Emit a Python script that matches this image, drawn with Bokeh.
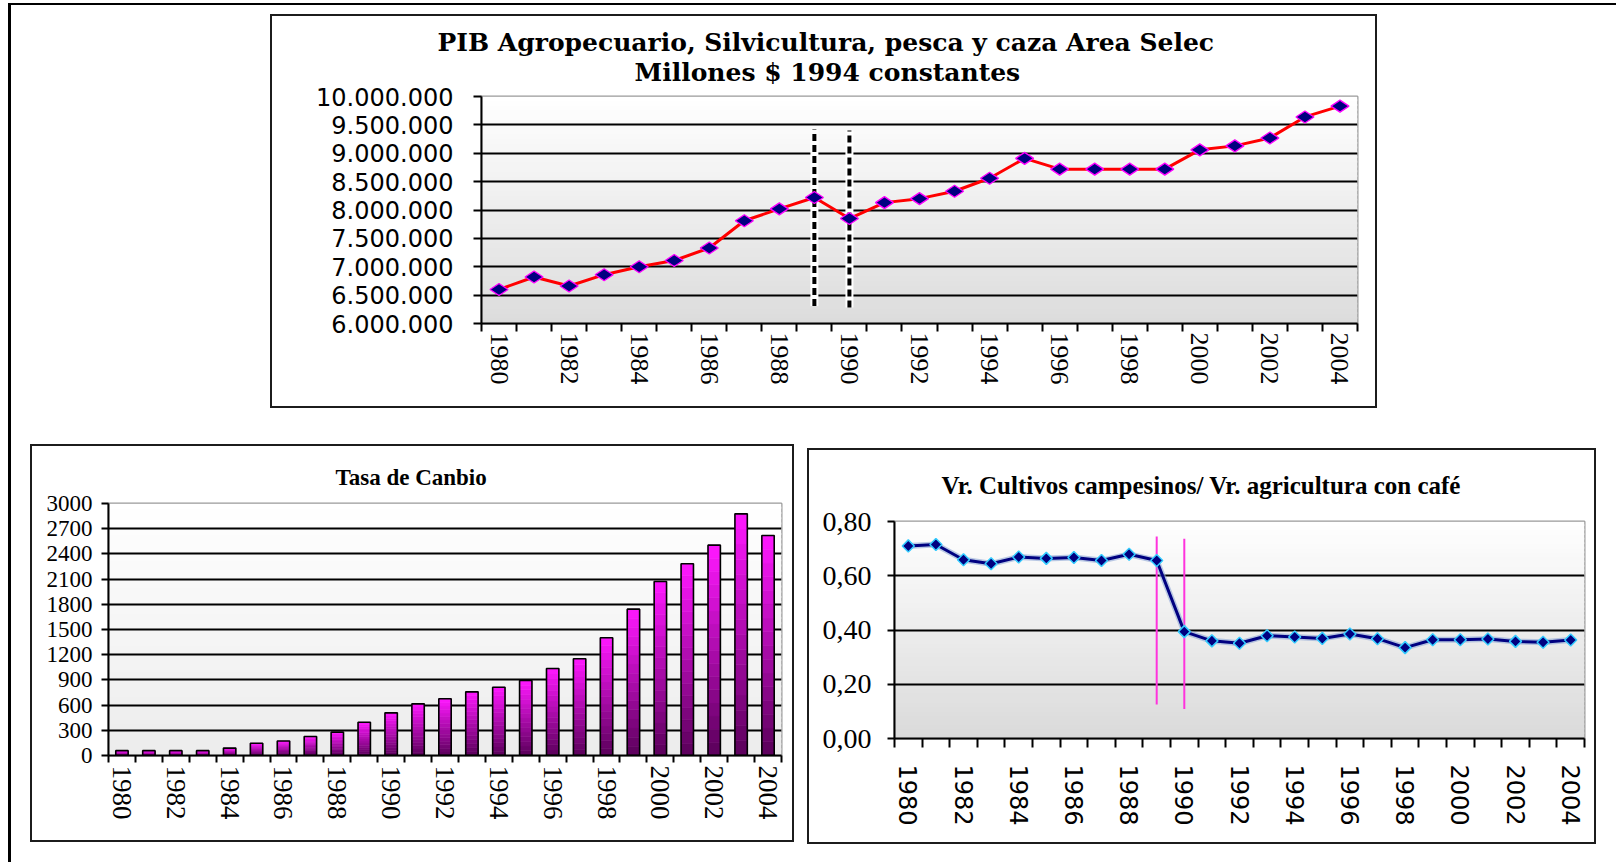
import numpy as np
from bokeh.plotting import figure
from bokeh.models import FixedTicker, Title, BoxAnnotation, Spacer, Range1d
from bokeh.layouts import row, column
from bokeh.embed import file_html
from bokeh.resources import INLINE

# ---------------- data ----------------
years = list(range(1980, 2005))

pib = [6600000, 6820000, 6660000, 6860000, 7000000, 7110000, 7330000, 7810000,
       8020000, 8220000, 7850000, 8130000, 8200000, 8330000, 8560000, 8910000,
       8720000, 8720000, 8720000, 8720000, 9060000, 9130000, 9270000, 9640000,
       9830000]

tasa = [58, 58, 58, 58, 88, 146, 172, 227, 278, 395, 508, 615, 675, 758, 813,
        893, 1036, 1151, 1401, 1742, 2071, 2282, 2504, 2877, 2619]

ratio = [0.710, 0.715, 0.659, 0.644, 0.669, 0.664, 0.667, 0.656, 0.679, 0.656,
         0.394, 0.360, 0.351, 0.379, 0.374, 0.369, 0.385, 0.368, 0.335, 0.364,
         0.364, 0.367, 0.358, 0.355, 0.363]

pib_ticks = [6000000, 6500000, 7000000, 7500000, 8000000, 8500000, 9000000,
             9500000, 10000000]
pib_tick_labels = ["6.000.000", "6.500.000", "7.000.000", "7.500.000",
                   "8.000.000", "8.500.000", "9.000.000", "9.500.000",
                   "10.000.000"]
tasa_ticks = [0, 300, 600, 900, 1200, 1500, 1800, 2100, 2400, 2700, 3000]
tasa_tick_labels = ["0", "300", "600", "900", "1200", "1500", "1800", "2100",
                    "2400", "2700", "3000"]
ratio_ticks = [0.0, 0.2, 0.4, 0.6, 0.8]
ratio_tick_labels = ["0,00", "0,20", "0,40", "0,60", "0,80"]
year_ticks = [1980, 1982, 1984, 1986, 1988, 1990, 1992, 1994, 1996, 1998,
              2000, 2002, 2004]
year_tick_labels = ["1980", "1982", "1984", "1986", "1988", "1990", "1992",
                    "1994", "1996", "1998", "2000", "2002", "2004"]

pib_title = ["PIB Agropecuario, Silvicultura, pesca y caza Area Selec",
             "Millones $ 1994 constantes"]
tasa_title = "Tasa de Canbio"
ratio_title = "Vr. Cultivos campesinos/ Vr. agricultura con café"

# vertical reference lines
pib_break_years = [1989, 1990]
pib_break_low = [6310000, 6280000]
pib_break_high = [9420000, 9400000]
ratio_break_years = [1989, 1990]
ratio_break_low = [0.125, 0.109]
ratio_break_high = [0.745, 0.736]

# ---------------- helpers ----------------
BOX_BORDER = {"border": "2px solid #1c1c1c"}
XR = (years[0] - 0.5, years[-1] + 0.5)
boundaries = [y - 0.5 for y in years] + [years[-1] + 0.5]


def hexcol(rgb):
    return "#%02x%02x%02x" % tuple(int(round(c)) for c in rgb)


def add_gradient(p, y0, y1, top_rgb, bottom_rgb, n=48):
    h = (y1 - y0) / n
    for i in range(n):
        t = (i + 0.5) / n
        col = [b + (a - b) * t for a, b in zip(top_rgb, bottom_rgb)]
        p.add_layout(BoxAnnotation(bottom=y0 + i * h,
                                   top=y0 + (i + 1.4) * h if i < n - 1 else y1,
                                   fill_color=hexcol(col), fill_alpha=1.0,
                                   line_color=None, level="image"))


def make_fig(w, h, l, r, t, b, yr, ticks, tick_labels):
    p = figure(width=w, height=h, output_backend="svg", toolbar_location=None,
               x_range=Range1d(*XR), y_range=Range1d(*yr),
               min_border_left=l, min_border_right=r, min_border_top=t,
               min_border_bottom=b)
    p.styles = BOX_BORDER
    p.background_fill_color = "#eeeeee"
    p.border_fill_color = "white"
    p.outline_line_color = "#9a9a9a"
    p.outline_line_width = 2
    p.xgrid.visible = False
    p.ygrid.ticker = FixedTicker(ticks=ticks[1:-1])
    p.ygrid.grid_line_color = "black"
    p.ygrid.grid_line_width = 2
    p.ygrid.grid_line_alpha = 1.0
    p.xaxis.ticker = FixedTicker(ticks=year_ticks, minor_ticks=boundaries)
    p.xaxis.major_label_overrides = dict(zip(year_ticks, year_tick_labels))
    p.xaxis.major_label_orientation = "vertical"
    p.yaxis.ticker = FixedTicker(ticks=ticks, minor_ticks=[])
    p.yaxis.major_label_overrides = dict(zip(ticks, tick_labels))
    for ax in (p.xaxis[0], p.yaxis[0]):
        ax.axis_line_color = "black"
        ax.axis_line_width = 2
        ax.major_tick_line_color = "black"
        ax.major_tick_line_width = 2
        ax.minor_tick_line_color = "black"
        ax.minor_tick_line_width = 2
        ax.major_label_text_color = "black"
    p.xaxis.major_tick_out = 0
    p.xaxis.major_tick_in = 0
    p.xaxis.minor_tick_in = 0
    p.yaxis.major_tick_in = 0
    return p


def add_title(p, text, offset, standoff, font, size, valign="bottom"):
    p.add_layout(Title(text=text, align="left", offset=offset, standoff=standoff,
                       vertical_align=valign,
                       text_font=font, text_font_style="bold",
                       text_font_size=size, text_color="black"), "above")


# ---------------- top chart: PIB ----------------
p1 = make_fig(1107, 394, 209, 22, 80, 87, (6000000, 10000000), pib_ticks, pib_tick_labels)
add_gradient(p1, 6000000, 10000000, (255, 255, 255), (220, 220, 220))
p1.xaxis.minor_tick_out = 8
p1.xaxis.major_label_standoff = 1
p1.xaxis.major_label_text_font = "Liberation Serif"
p1.xaxis.major_label_text_font_size = "26px"
p1.yaxis.major_tick_out = 8
p1.yaxis.major_label_standoff = 20
p1.yaxis.major_label_text_font = "DejaVu Sans"
p1.yaxis.major_label_text_font_size = "24px"

p1.segment(x0=pib_break_years, y0=pib_break_low, x1=pib_break_years, y1=pib_break_high,
           line_color="white", line_width=8)
p1.segment(x0=pib_break_years, y0=pib_break_low, x1=pib_break_years, y1=pib_break_high,
           line_color="black", line_width=4, line_dash="7 4")
p1.line(years, pib, line_color="#ff0000", line_width=3)
p1.scatter(years, pib, marker="diamond", size=18, angle=np.pi / 2,
           fill_color="#000080", line_color="#ff00ff", line_width=1.3)
add_title(p1, pib_title[1], 153, 19, "DejaVu Serif", "25px")
add_title(p1, pib_title[0], -44, -20, "DejaVu Serif", "25px")

# ---------------- bottom-left: Tasa de cambio ----------------
p2 = make_fig(764, 398, 76, 15, 57, 89, (0, 3000), tasa_ticks, tasa_tick_labels)
add_gradient(p2, 0, 3000, (255, 255, 255), (236, 236, 236))
p2.xaxis.minor_tick_out = 7
p2.xaxis.major_label_standoff = 3
p2.xaxis.major_label_text_font = "Liberation Serif"
p2.xaxis.major_label_text_font_size = "27px"
p2.yaxis.major_tick_out = 7
p2.yaxis.major_label_standoff = 9
p2.yaxis.major_label_text_font = "Liberation Serif"
p2.yaxis.major_label_text_font_size = "23px"

nseg = 16
top_rgb = (255, 24, 255)
bot_rgb = (90, 0, 90)
for k in range(nseg):
    t = (k + 0.5) / nseg
    col = hexcol([b + (a - b) * t for a, b in zip(top_rgb, bot_rgb)])
    p2.vbar(x=years, bottom=[v * k / nseg for v in tasa],
            top=[v * (k + 1) / nseg for v in tasa], width=0.46,
            fill_color=col, line_color=col, line_width=0.6)
p2.vbar(x=years, top=tasa, bottom=0, width=0.46, fill_color=None,
        line_color="black", line_width=1.6)
add_title(p2, tasa_title, 227, 28, "Liberation Serif", "23px")

# ---------------- bottom-right: ratio ----------------
p3 = make_fig(789, 396, 85, 14, 71, 108, (0, 0.8), ratio_ticks, ratio_tick_labels)
add_gradient(p3, 0, 0.8, (255, 255, 255), (218, 218, 218))
p3.xaxis.minor_tick_out = 9
p3.xaxis.major_label_standoff = 17
p3.xaxis.major_label_text_font = "DejaVu Sans"
p3.xaxis.major_label_text_font_size = "24px"
p3.yaxis.major_tick_out = 7
p3.yaxis.major_label_standoff = 16
p3.yaxis.major_label_text_font = "Liberation Serif"
p3.yaxis.major_label_text_font_size = "28px"

p3.segment(x0=ratio_break_years, y0=ratio_break_low, x1=ratio_break_years,
           y1=ratio_break_high, line_color="#ff33dd", line_width=2)
p3.line(years, ratio, line_color="#8ea6d6", line_width=6, line_alpha=0.6)
p3.line(years, ratio, line_color="#000080", line_width=3)
p3.scatter(years, ratio, marker="square", angle=np.pi / 4, size=8.5,
           fill_color="#000080", line_color="#33ccff", line_width=1.5)
add_title(p3, ratio_title, 47, 41, "Liberation Serif", "25px", valign="top")

# ---------------- page layout ----------------
top_row = row(Spacer(width=259, height=10), p1)
bottom_row = row(Spacer(width=19, height=10), p2, Spacer(width=13, height=10),
                 column(Spacer(width=10, height=4), p3))
root = column(Spacer(width=1605, height=9), top_row, Spacer(width=10, height=36),
              bottom_row, Spacer(width=10, height=18))
root.styles = {"border-top": "2px solid black", "border-left": "3px solid black",
               "margin-top": "3px", "margin-left": "8px"}

open("out.html", "w").write(file_html(root, INLINE))
